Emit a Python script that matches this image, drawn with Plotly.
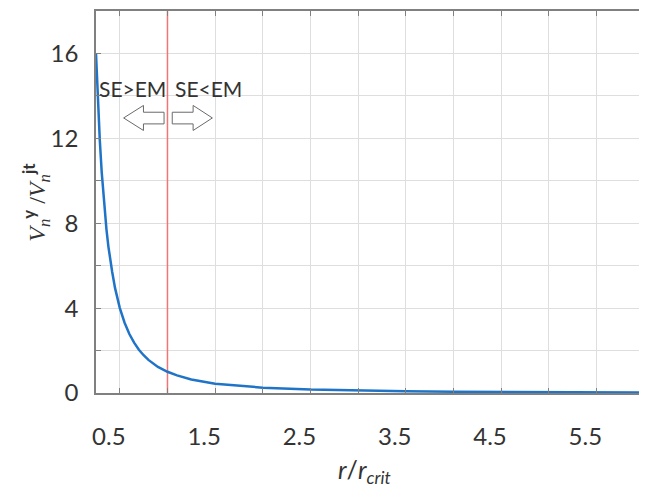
import plotly.graph_objects as go

# data
r_ratio = [0.25, 0.27, 0.29, 0.31, 0.33, 0.36, 0.38, 0.40, 0.42, 0.45, 0.47, 0.50, 0.55, 0.60,
           0.65, 0.70, 0.75, 0.80, 0.90, 1.0, 1.1, 1.25, 1.5, 1.75, 2.0, 2.5, 3.0, 3.5, 4.0,
           4.5, 5.0, 5.5, 6.0]
v_ratio = [16.0, 13.7, 11.9, 10.4, 9.2, 7.7, 6.9, 6.25, 5.7, 4.94, 4.5, 4.0, 3.31, 2.78,
           2.37, 2.04, 1.78, 1.56, 1.23, 1.0, 0.83, 0.64, 0.44, 0.33, 0.25, 0.16, 0.11, 0.08,
           0.06, 0.05, 0.04, 0.033, 0.028]
r_crit_line = [1.0, 1.0]
r_crit_span = [0, 18]

x_tickvals = [0.5, 1.0, 1.5, 2.0, 2.5, 3.0, 3.5, 4.0, 4.5, 5.0, 5.5]
x_ticktext = ["0.5", "", "1.5", "", "2.5", "", "3.5", "", "4.5", "", "5.5"]
y_tickvals = [0, 2, 4, 6, 8, 10, 12, 14, 16]
y_ticktext = ["0", "", "4", "", "8", "", "12", "", "16"]

TXT = "#333333"
AX = "#808080"
GRID = "#dedede"

fig = go.Figure()
fig.add_trace(go.Scatter(x=r_crit_line, y=r_crit_span, mode="lines",
                         line=dict(color="#f27575", width=1.5), showlegend=False,
                         hoverinfo="skip"))
fig.add_trace(go.Scatter(x=r_ratio, y=v_ratio, mode="lines",
                         line=dict(color="#1f74c8", width=2.5), showlegend=False,
                         hoverinfo="skip"))

# block arrows
fig.add_shape(type="path", xref="x", yref="y",
              path="M 0.964,13.23 L 0.748,13.23 L 0.748,13.55 L 0.540,12.96 L 0.748,12.37 "
                   "L 0.748,12.68 L 0.964,12.68 Z",
              line=dict(color="#6a6a6a", width=1), fillcolor="white")
fig.add_shape(type="path", xref="x", yref="y",
              path="M 1.05,13.23 L 1.269,13.23 L 1.269,13.55 L 1.471,12.96 L 1.269,12.37 "
                   "L 1.269,12.68 L 1.05,12.68 Z",
              line=dict(color="#6a6a6a", width=1), fillcolor="white")

fig.add_annotation(x=0.63, y=14.35, xref="x", yref="y", text="SE>EM", showarrow=False,
                   font=dict(family="Lato", size=21, color=TXT))
fig.add_annotation(x=1.43, y=14.35, xref="x", yref="y", text="SE<EM", showarrow=False,
                   font=dict(family="Lato", size=21, color=TXT))

fig.add_annotation(x=0.49, y=-0.205, xref="paper", yref="paper", xanchor="center",
                   yanchor="middle",
                   text="<i>r</i>/<i>r</i><sub><i>crit</i></sub>", showarrow=False,
                   font=dict(family="Lato", size=25, color=TXT))
fig.add_annotation(x=-0.11, y=0.50, xref="paper", yref="paper", textangle=-90,
                   xanchor="center", yanchor="middle",
                   text="<i>V</i><sub><i>n</i></sub><sup><b><span style='font-family:Lato'>y</span></b></sup>"
                        " /<i>V</i><sub><i>n</i></sub><sup><b><span style='font-family:Lato'>jt</span></b></sup>",
                   showarrow=False, font=dict(family="Liberation Serif", size=24, color=TXT))

fig.update_xaxes(range=[0.25, 6.0], tickvals=x_tickvals, ticktext=x_ticktext,
                 showgrid=True, gridcolor=GRID, gridwidth=1, zeroline=False,
                 showline=True, linecolor=AX, linewidth=1.5, mirror="ticks",
                 ticks="inside", ticklen=5, tickcolor=AX, ticklabelstandoff=21,
                 ticklabelshift=-11,
                 tickfont=dict(family="Lato", size=24, color=TXT))
fig.update_yaxes(range=[0, 18], tickvals=y_tickvals, ticktext=y_ticktext,
                 showgrid=True, gridcolor=GRID, gridwidth=1, zeroline=False,
                 showline=True, linecolor=AX, linewidth=1.5, mirror="ticks",
                 ticks="inside", ticklen=5, tickcolor=AX, ticklabelstandoff=11,
                 tickfont=dict(family="Lato", size=24, color=TXT))

# page body has an 8px margin: shrink the figure so it fits the 647x493 window
fig.update_layout(width=639, height=485, margin=dict(l=88, r=1, t=1, b=100),
                  paper_bgcolor="white", plot_bgcolor="white")

fig.write_html("out.html")
